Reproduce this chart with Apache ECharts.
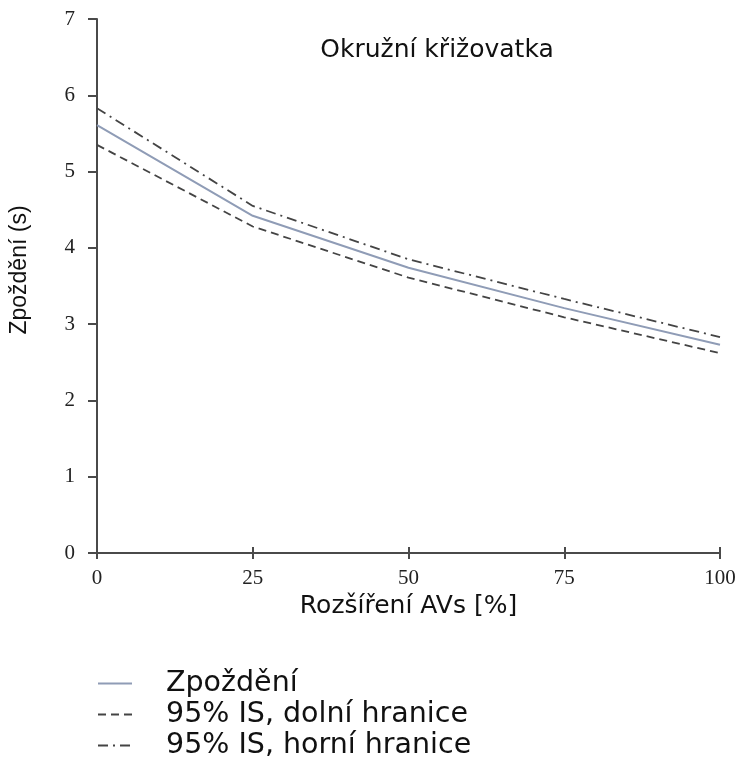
<!DOCTYPE html>
<html><head><meta charset="utf-8">
<script src="https://cdn.jsdelivr.net/npm/echarts@6/dist/echarts.min.js"></script>
<style>html,body{margin:0;padding:0;background:#fff}#c{width:740px;height:762px}</style>
</head><body><div id="c"></div>
<script>
const xValues = [0, 25, 50, 75, 100];
const delay = [5.61, 4.42, 3.74, 3.21, 2.73];
const lower = [5.35, 4.28, 3.61, 3.09, 2.62];
const upper = [5.83, 4.55, 3.85, 3.33, 2.83];
const seriesNames = ['Zpoždění', '95% IS, dolní hranice', '95% IS, horní hranice'];
const titleText = 'Okružní křižovatka';
const xName = 'Rozšíření AVs [%]';
const yName = 'Zpoždění (s)';

const pairs = arr => xValues.map((x, i) => [x, arr[i]]);
const chart = echarts.init(document.getElementById('c'), null, {renderer: 'canvas'});
const axisCol = '#4a4a4a';
const tickFont = {fontFamily: 'Liberation Serif', fontSize: 21, color: '#222', fontWeight: 'normal'};
chart.setOption({
  animation: false,
  backgroundColor: '#fff',
  title: {text: titleText, left: 432, top: 33, textAlign: 'center',
    textStyle: {fontFamily: 'DejaVu Sans', fontSize: 25, fontWeight: 'normal', color: '#111'}},
  grid: {left: 97, right: 20, top: 19, bottom: 209, containLabel: false},
  xAxis: [{
    type: 'value', min: 0, max: 100, interval: 25,
    name: xName, nameLocation: 'middle', nameGap: 37,
    nameTextStyle: {fontFamily: 'DejaVu Sans', fontSize: 25, color: '#111'},
    axisLine: {show: true, lineStyle: {color: axisCol, width: 2}},
    axisTick: {show: true, length: 6, lineStyle: {color: axisCol, width: 2}},
    axisLabel: Object.assign({margin: 15}, tickFont),
    splitLine: {show: false}
  }, {
    type: 'value', min: 0, max: 100, interval: 25, position: 'bottom',
    axisLine: {show: false},
    axisTick: {show: true, inside: true, length: 6, lineStyle: {color: axisCol, width: 2}},
    axisLabel: {show: false}, splitLine: {show: false}
  }],
  yAxis: {
    type: 'value', min: 0, max: 7, interval: 1,
    axisLine: {show: true, lineStyle: {color: axisCol, width: 2}},
    axisTick: {show: true, length: 9, lineStyle: {color: axisCol, width: 2}},
    axisLabel: Object.assign({margin: 22}, tickFont),
    splitLine: {show: false}
  },
  graphic: [{
    type: 'text', x: 20, y: 270, rotation: Math.PI / 2,
    style: {text: yName, font: '23px "Liberation Sans"', fill: '#111', align: 'center', verticalAlign: 'middle'}
  }],
  legend: {
    orient: 'vertical', left: 97, top: 669, height: 100, padding: 0, itemGap: 2, itemWidth: 34, itemHeight: 14,
    itemStyle: {opacity: 0},
    textStyle: {fontFamily: 'DejaVu Sans', fontSize: 28.5, color: '#111', padding: [0, 0, 0, 29]},
    data: seriesNames
  },
  series: [{
    name: seriesNames[0], type: 'line', data: pairs(delay), showSymbol: false, symbol: 'none',
    lineStyle: {color: '#8f9cb6', width: 2}, itemStyle: {color: '#8f9cb6'}
  }, {
    name: seriesNames[1], type: 'line', data: pairs(lower), showSymbol: false, symbol: 'none',
    lineStyle: {color: '#444', width: 1.8, type: [8, 5]}, itemStyle: {color: '#444'}
  }, {
    name: seriesNames[2], type: 'line', data: pairs(upper), showSymbol: false, symbol: 'none',
    lineStyle: {color: '#444', width: 1.8, type: [10, 5, 2, 5]}, itemStyle: {color: '#444'}
  }]
});
</script></body></html>
